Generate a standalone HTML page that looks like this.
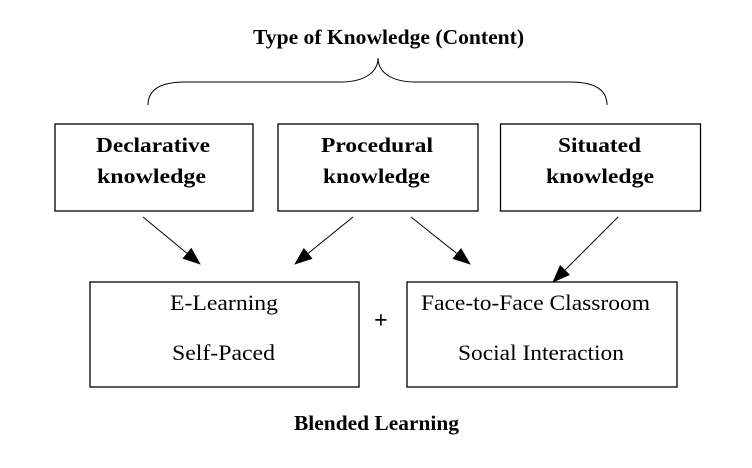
<!DOCTYPE html>
<html><head><style>
body{margin:0;background:#fff;}
svg text{font-family:"Liberation Serif",serif;fill:#000;}
</style></head><body>
<svg width="752" height="463" viewBox="0 0 752 463" xmlns="http://www.w3.org/2000/svg">
<defs><marker id="a" markerWidth="18" markerHeight="14" refX="17" refY="7" orient="auto" markerUnits="userSpaceOnUse"><path d="M0,0 L18,7 L0,14 z" fill="#000"/></marker></defs>
<g font-weight="bold" font-size="21">
<text x="253" y="44" textLength="271" lengthAdjust="spacingAndGlyphs">Type of Knowledge (Content)</text>
<text x="96" y="152" textLength="114" lengthAdjust="spacingAndGlyphs">Declarative</text>
<text x="97" y="183" textLength="109" lengthAdjust="spacingAndGlyphs">knowledge</text>
<text x="321" y="152" textLength="112" lengthAdjust="spacingAndGlyphs">Procedural</text>
<text x="323" y="183" textLength="107" lengthAdjust="spacingAndGlyphs">knowledge</text>
<text x="558" y="152" textLength="83" lengthAdjust="spacingAndGlyphs">Situated</text>
<text x="546" y="183" textLength="108" lengthAdjust="spacingAndGlyphs">knowledge</text>
<text x="294" y="430" textLength="165" lengthAdjust="spacingAndGlyphs">Blended Learning</text>
<text x="374" y="328" font-size="24">+</text>
</g>
<path d="M148,105 C148,90 160,82 185,82 L340,82 C365,82 378,72 378,58 C378,72 391,82 416,82 L570,82 C595,82 607,90 607,105" fill="none" stroke="#000" stroke-width="1"/>
<g fill="none" stroke="#000" stroke-width="1.3">
<rect x="55" y="124" width="198" height="87"/>
<rect x="278" y="124" width="200" height="87"/>
<rect x="500.5" y="124" width="200" height="87"/>
<rect x="90" y="282" width="269" height="105"/>
<rect x="407" y="282" width="270" height="105"/>
</g>
<g stroke="#000" stroke-width="1" marker-end="url(#a)">
<line x1="143" y1="217" x2="200" y2="264"/>
<line x1="353" y1="217" x2="295" y2="264"/>
<line x1="411" y1="217" x2="470" y2="264"/>
<line x1="618" y1="217" x2="553" y2="282"/>
</g>
<g font-size="22">
<text x="170" y="310" textLength="108" lengthAdjust="spacingAndGlyphs">E-Learning</text>
<text x="172" y="360" textLength="103" lengthAdjust="spacingAndGlyphs">Self-Paced</text>
<text x="421" y="310" textLength="229" lengthAdjust="spacingAndGlyphs">Face-to-Face Classroom</text>
<text x="458" y="360" textLength="166" lengthAdjust="spacingAndGlyphs">Social Interaction</text>
</g>
</svg>
</body></html>
